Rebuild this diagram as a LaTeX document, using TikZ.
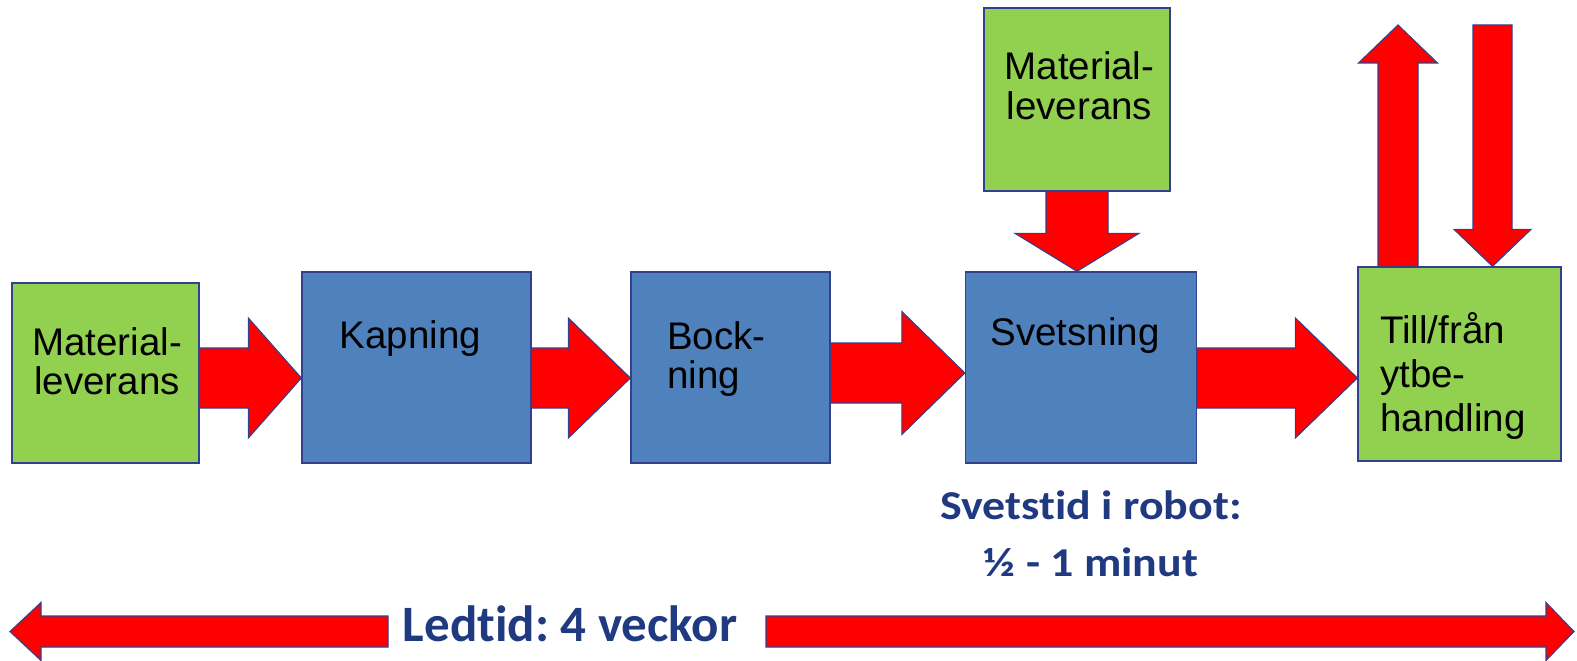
\documentclass[tikz,border=0pt]{standalone}
\usepackage{fontspec}
\setmainfont{Liberation Sans}
\newfontfamily\notefont[Ligatures=NoCommon]{Carlito}
\newfontfamily\widenotefont[Ligatures=NoCommon, FakeStretch=1.12]{Carlito}
\usetikzlibrary{calc}
\frenchspacing

\definecolor{boxgreen}{HTML}{92D050}
\definecolor{boxblue}{HTML}{4F81BD}
\definecolor{edgeblue}{HTML}{33408F}
\definecolor{arrowred}{HTML}{FF0000}
\definecolor{notetext}{HTML}{1F3A80}

% lines of a label stacked so that the first line carries the baseline
\newcommand\stacklines[2]{\begin{tabular}[t]{@{}#1@{}}#2\end{tabular}}

\tikzset{
  procbox/.style={draw=edgeblue, line width=1.3pt, inner sep=0pt, fill=#1},
  boxtext/.style={font=\fontsize{38.5}{38}\selectfont, text=black, inner sep=0pt, anchor=base},
  notelabel/.style={text=notetext, inner sep=0pt, anchor=base},
  arrowbody/.style={fill=arrowred, draw=edgeblue, line width=1.1pt, line join=miter},
}

% Block arrow from #1 (tail) to #2 (tip): shaft half-width #3, head half-width #4, head length #5
\newcommand\blockarrow[5]{%
  \coordinate (ba-head) at ($(#2)!#5!(#1)$);
  \draw[arrowbody]
    ($(#1)!#3!90:(#2)$) -- ($(ba-head)!#3!90:(#2)$) -- ($(ba-head)!#4!90:(#2)$)
    -- (#2)
    -- ($(ba-head)!#4!-90:(#2)$) -- ($(ba-head)!#3!-90:(#2)$) -- ($(#1)!#3!-90:(#2)$)
    -- cycle;
}

\begin{document}
\begin{tikzpicture}[x=1pt, y=-1pt]
  \useasboundingbox (0,0) rectangle (1577,661);

  % process boxes
  \node[procbox=boxgreen, minimum width=187pt, minimum height=180pt] (ml1) at (105.5,373) {};
  \node[procbox=boxblue, minimum width=229pt, minimum height=191pt] (kap) at (416.5,367.5) {};
  \node[procbox=boxblue, minimum width=199pt, minimum height=191pt] (bock) at (730.5,367.5) {};
  \node[procbox=boxblue, minimum width=231pt, minimum height=191pt] (svet) at (1081,367.5) {};
  \node[procbox=boxgreen, minimum width=203pt, minimum height=194pt] (till) at (1459.5,364) {};
  \node[procbox=boxgreen, minimum width=186pt, minimum height=183pt] (ml2) at (1077,99.5) {};

  % box labels
  \node[boxtext] (ml1t) at (107,355) {\stacklines{c}{Material-\\leverans}};
  \node[boxtext] (kapt) at (410.5,348) {Kapning};
  \node[boxtext, anchor=base west] (bockt) at (667,349) {\stacklines{l}{Bock-\\ning}};
  \node[boxtext] (svett) at (1075,345) {Svetsning};
  \node[boxtext, anchor=base west, font=\fontsize{38.5}{44}\selectfont] (tillt) at (1380,343)
    {\stacklines{l}{Till/från\\ytbe-\\handling}};
  \node[boxtext] (ml2t) at (1079.5,80) {\stacklines{c}{Material-\\leverans}};

  % rows of the horizontal arrows
  \coordinate (rowa) at (0,378);
  \coordinate (rowb) at (0,373);

  \blockarrow{ml1.east |- rowa}{kap.west |- rowa}{30pt}{60pt}{53pt}
  \blockarrow{kap.east |- rowa}{bock.west |- rowa}{30pt}{60pt}{62pt}
  \blockarrow{bock.east |- rowb}{svet.west |- rowb}{30pt}{61.5pt}{63pt}
  \blockarrow{svet.east |- rowa}{till.west |- rowa}{30pt}{60pt}{62pt}

  % supply into welding
  \blockarrow{ml2.south}{ml2.south |- svet.north}{31pt}{62pt}{38pt}

  % to and from surface treatment
  \coordinate (upend) at (1398,25);
  \coordinate (downstart) at (1492.5,25);
  \blockarrow{till.north -| upend}{upend}{20pt}{39.5pt}{38pt}
  \blockarrow{downstart}{till.north -| downstart}{19.5pt}{38.5pt}{37pt}

  % notes
  \node[notelabel, font=\widenotefont\bfseries\fontsize{41}{57}\selectfont] (weld) at (1091,519)
    {\stacklines{c}{Svetstid i robot:\\½ - 1 minut}};

  \node[notelabel, font=\notefont\bfseries\fontsize{51}{60}\selectfont] (lead) at (570,641) {Ledtid: 4 veckor};
  \coordinate (gapl) at (388,631.5);
  \coordinate (gapr) at (766,631.5);
  \coordinate (leftend) at (10,631.5);
  \coordinate (rightend) at (1574,631.5);
  \blockarrow{gapl}{leftend}{15.5pt}{29pt}{31pt}
  \blockarrow{gapr}{rightend}{15.5pt}{29pt}{28pt}
\end{tikzpicture}
\end{document}
